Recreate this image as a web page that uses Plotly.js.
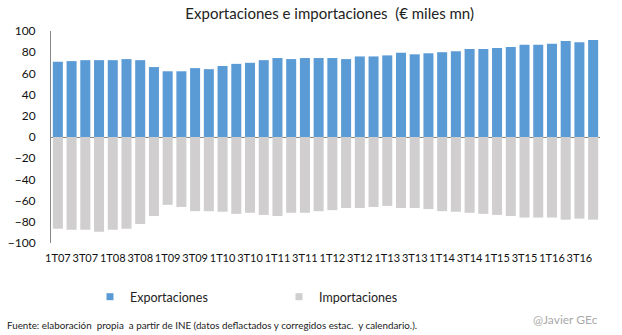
<!DOCTYPE html>
<html><head><meta charset="utf-8">
<script src="https://cdn.plot.ly/plotly-3.0.1.min.js"></script>
<style>body{margin:0;padding:0;background:#fff}#chart{width:622px;height:335px}</style>
</head><body><div id="chart"></div>
<script>
const quarters = [];
const years = ["07","08","09","10","11","12","13","14","15","16"];
for (const y of years) for (const q of [1,2,3,4]) quarters.push(q + "T" + y);
const tickLabels = ["1T07","3T07","1T08","3T08","1T09","3T09","1T10","3T10","1T11","3T11","1T12","3T12","1T13","3T13","1T14","3T14","1T15","3T15","1T16","3T16"];
const exportaciones = [71,71.6,72.5,72.5,72.5,73.5,72.5,66,62,62,65,64,67,69,70,72.5,74.5,73.5,74.5,74.5,
  74.5,73.5,76,76,77,79.5,78,79,80,81,83,83,84,85,87,87,88,90.5,89.5,91.5];
const importaciones = [-86.5,-87.5,-87.5,-89.5,-87.5,-86.5,-82,-74.5,-64,-66,-70,-70,-70.5,-72.5,-71.5,-73.5,-74.5,-71.5,-71.5,-70,
  -69,-67,-67,-66,-65,-67,-67,-68,-70,-70.5,-71.5,-72.5,-73.5,-74.5,-76,-76,-76,-78,-77,-78];
const seriesNames = ["Exportaciones","Importaciones"];
const seriesColors = ["#5B9BD5","#D0CECE"];

const FONT = "Lato, 'Open Sans', sans-serif";
const data = [
  {type:"bar", name:seriesNames[0], x:quarters, y:exportaciones, marker:{color:seriesColors[0]}, showlegend:false},
  {type:"bar", name:seriesNames[1], x:quarters, y:importaciones, marker:{color:seriesColors[1]}, showlegend:false},
  {type:"scatter", mode:"markers", name:seriesNames[0], x:[null], y:[null], marker:{symbol:"square", size:7, color:seriesColors[0]}},
  {type:"scatter", mode:"markers", name:seriesNames[1], x:[null], y:[null], marker:{symbol:"square", size:7, color:seriesColors[1]}}
];
const layout = {
  width:622, height:335,
  margin:{l:51, r:22, t:31, b:92},
  paper_bgcolor:"#fff", plot_bgcolor:"#fff",
  barmode:"relative", bargap:0.27,
  font:{family:FONT, color:"#222", size:11},
  title:{text:"Exportaciones e importaciones  (€ miles mn)", x:0.53, xanchor:"center", y:0.975, yanchor:"top", font:{size:15, color:"#222", family:FONT}},
  xaxis:{type:"category", tickmode:"array", tickvals:tickLabels, ticktext:tickLabels, tickangle:0,
    showline:false, showgrid:false, ticks:"", ticklabelstandoff:7, tickfont:{size:11, color:"#111"}},
  yaxis:{range:[-100,100], tickvals:[-100,-80,-60,-40,-20,0,20,40,60,80,100], showgrid:false,
    zeroline:true, zerolinecolor:"#888", zerolinewidth:1,
    showline:true, linecolor:"#888", linewidth:1, ticks:"", ticklabelstandoff:12, tickfont:{size:12, color:"#111"}},
  showlegend:true,
  legend:{orientation:"h", x:0.071, xanchor:"left", y:-0.255, yanchor:"middle", entrywidth:144, entrywidthmode:"pixels",
    font:{size:12.5, color:"#222"}, itemwidth:30},
  annotations:[
    {text:"Fuente: elaboración  propia  a partir de INE (datos deflactados y corregidos estac.  y calendario.).", xref:"paper", yref:"paper", x:-46/549, xanchor:"left", y:-0.387, yanchor:"middle", showarrow:false, font:{size:9.8, color:"#222", family:FONT}},
    {text:"@Javier GEc", xref:"paper", yref:"paper", x:1.0, xanchor:"right", y:-0.363, yanchor:"middle", showarrow:false, font:{size:12, color:"#aaa", family:FONT}}
  ]
};
Plotly.newPlot("chart", data, layout, {displayModeBar:false, staticPlot:true});
</script></body></html>
